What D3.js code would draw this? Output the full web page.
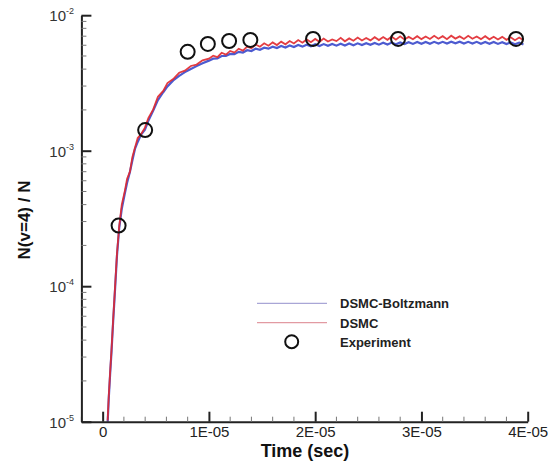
<!DOCTYPE html>
<html>
<head>
<meta charset="utf-8">
<script src="https://cdn.jsdelivr.net/npm/d3@7/dist/d3.min.js"></script>
<style>
  html, body { margin: 0; padding: 0; background: #fff; }
  svg { display: block; font-family: "Liberation Sans", Arial, Helvetica, sans-serif; }
</style>
</head>
<body>
<svg id="chart" width="554" height="464"></svg>
<script>
// ---- Data (time in microseconds, populations in units of 1e-3) ----
const timeMicro = [
  0.47, 0.57, 0.7, 0.83, 1.0, 1.1, 1.19, 1.35, 1.56, 1.8, 2.1, 2.3, 2.57, 2.8, 3.04, 3.3, 3.6, 3.98, 4.3, 4.76,
  5.2, 5.7, 6.1, 6.64, 7.2, 7.74, 8.3, 8.84, 9.4,
  10.0, 10.4, 10.8, 11.2, 11.6, 12.0, 12.4, 12.8, 13.2, 13.6, 14.0, 14.4, 14.8, 15.2, 15.6, 16.0, 16.4, 16.8,
  17.2, 17.6, 18.0, 18.4, 18.8, 19.2, 19.6, 20.0, 20.4, 20.8, 21.2, 21.6, 22.0, 22.4, 22.8, 23.2, 23.6, 24.0,
  24.4, 24.8, 25.2, 25.6, 26.0, 26.4, 26.8, 27.2, 27.6, 28.0, 28.4, 28.8, 29.2, 29.6, 30.0, 30.4, 30.8, 31.2,
  31.6, 32.0, 32.4, 32.8, 33.2, 33.6, 34.0, 34.4, 34.8, 35.2, 35.6, 36.0, 36.4, 36.8, 37.2, 37.6, 38.0, 38.4,
  38.8, 39.2, 39.6
];
const dsmc = [
  0.0102, 0.0152, 0.0230, 0.0335, 0.059, 0.080, 0.106, 0.175, 0.278, 0.40, 0.51, 0.62, 0.70, 0.90, 1.05, 1.24, 1.32, 1.48, 1.74, 2.02,
  2.50, 2.76, 3.16, 3.38, 3.76, 3.90, 4.22, 4.32, 4.64,
  4.78, 5.02, 4.90, 5.28, 5.12, 5.45, 5.30, 5.66, 5.48, 5.86, 5.70, 6.08, 5.85, 6.20, 5.95, 6.30, 6.02, 6.38,
  6.10, 6.45, 6.18, 6.55, 6.26, 6.62, 6.32, 6.68, 6.36, 6.72, 6.40, 6.62, 6.44, 6.80, 6.42, 6.74, 6.48, 6.84,
  6.50, 6.78, 6.52, 6.88, 6.55, 6.90, 6.58, 6.94, 6.60, 6.98, 6.62, 6.92, 6.64, 7.00, 6.66, 6.96, 6.68, 7.04,
  6.70, 7.00, 6.66, 7.06, 6.72, 6.98, 6.68, 7.04, 6.70, 6.96, 6.66, 7.00, 6.64, 6.94, 6.62, 6.92, 6.58, 6.88,
  6.54, 6.84, 6.52
];
const dsmcBoltzmann = [
  0.0098, 0.0146, 0.0222, 0.0325, 0.057, 0.077, 0.102, 0.169, 0.270, 0.372, 0.49, 0.58, 0.70, 0.85, 1.03, 1.16, 1.31, 1.43, 1.66, 1.98,
  2.36, 2.70, 2.98, 3.30, 3.57, 3.80, 4.01, 4.21, 4.42,
  4.62, 4.78, 4.80, 5.00, 5.00, 5.18, 5.16, 5.36, 5.30, 5.52, 5.44, 5.66, 5.56, 5.76, 5.66, 5.86, 5.72, 5.92,
  5.78, 5.98, 5.82, 6.02, 5.86, 6.06, 5.90, 6.10, 5.92, 6.12, 5.94, 6.14, 5.96, 6.16, 5.98, 6.18, 6.00, 6.20,
  6.02, 6.22, 6.04, 6.24, 6.06, 6.26, 6.08, 6.28, 6.10, 6.30, 6.12, 6.32, 6.14, 6.34, 6.16, 6.34, 6.16, 6.36,
  6.18, 6.36, 6.18, 6.38, 6.20, 6.38, 6.18, 6.36, 6.18, 6.36, 6.16, 6.34, 6.16, 6.34, 6.14, 6.32, 6.12, 6.30,
  6.10, 6.28, 6.08
];
const expTimeMicro = [1.5, 4.0, 8.0, 9.9, 11.9, 13.9, 19.8, 27.8, 38.9];
const experiment   = [0.28, 1.42, 5.37, 6.14, 6.45, 6.57, 6.68, 6.68, 6.68];

const xTicks = [0, 1e-5, 2e-5, 3e-5, 4e-5];
const xTickLabels = ["0", "1E-05", "2E-05", "3E-05", "4E-05"];
const yTicks = [1e-5, 1e-4, 1e-3, 1e-2];
const yTickExponents = ["-5", "-4", "-3", "-2"];
const seriesNames = ["DSMC-Boltzmann", "DSMC", "Experiment"];

// ---- Scales ----
const svg = d3.select("#chart");
const x = d3.scaleLinear().domain([-2e-6, 4e-5]).range([81.4, 527.7]);
const y = d3.scaleLog().domain([1e-5, 1e-2]).range([421.7, 15.2]);

const toPts = (ts, vs) => ts.map((t, i) => [t * 1e-6, vs[i] * 1e-3]);

// clip
svg.append("defs").append("clipPath").attr("id", "plot")
  .append("rect").attr("x", 81.4).attr("y", 10).attr("width", 460).attr("height", 411.7);

const line = d3.line().x(d => x(d[0])).y(d => y(d[1]));
const g = svg.append("g").attr("clip-path", "url(#plot)");
g.append("path").datum(toPts(timeMicro, dsmcBoltzmann))
  .attr("d", line).attr("fill", "none").attr("stroke", "#4d5bd0").attr("stroke-width", 2.2);
g.append("path").datum(toPts(timeMicro, dsmc))
  .attr("d", line).attr("fill", "none").attr("stroke", "#e0282e").attr("stroke-width", 1.8)
  .attr("stroke-opacity", 0.9);

// experiment circles
svg.append("g").selectAll("circle").data(toPts(expTimeMicro, experiment)).join("circle")
  .attr("cx", d => x(d[0])).attr("cy", d => y(d[1])).attr("r", 7)
  .attr("fill", "none").attr("stroke", "#111").attr("stroke-width", 2);

// ---- Axes ----
const axisColor = "#222";
// x axis
const xMinor = d3.range(-2e-6, 4.0001e-5, 2e-6).filter(v => !xTicks.some(t => Math.abs(t - v) < 1e-9));
const xAxis = svg.append("g").attr("transform", `translate(0,${y(1e-5)})`);
xAxis.call(d3.axisBottom(x).tickValues(xTicks).tickFormat((d, i) => xTickLabels[i]).tickSizeInner(-10).tickSizeOuter(0).tickPadding(5));
xAxis.select(".domain").attr("stroke", axisColor).attr("stroke-width", 2);
xAxis.selectAll(".tick line").attr("stroke", axisColor).attr("stroke-width", 2);
xAxis.selectAll(".tick text").attr("font-size", 15).attr("fill", "#222")
  .attr("font-family", "Liberation Sans, Arial, sans-serif");
xAxis.append("g").selectAll("line").data(xMinor).join("line")
  .attr("x1", d => x(d)).attr("x2", d => x(d)).attr("y1", 0).attr("y2", -5)
  .attr("stroke", "#777").attr("stroke-width", 1);

// y axis
const yMinor = [];
yTicks.slice(0, 3).forEach(p => { for (let k = 2; k <= 9; k++) yMinor.push(p * k); });
const yAxis = svg.append("g").attr("transform", `translate(${x(-2e-6)},0)`);
yAxis.call(d3.axisLeft(y).tickValues(yTicks).tickFormat("").tickSizeInner(-10).tickSizeOuter(0));
yAxis.select(".domain").attr("stroke", axisColor).attr("stroke-width", 2);
yAxis.selectAll(".tick line").attr("stroke", axisColor).attr("stroke-width", 2);
yAxis.append("g").selectAll("line").data(yMinor).join("line")
  .attr("x1", 0).attr("x2", 5).attr("y1", d => y(d)).attr("y2", d => y(d))
  .attr("stroke", "#777").attr("stroke-width", 1);

// y tick labels with superscripts
const yl = svg.append("g").selectAll("text").data(yTicks).join("text")
  .attr("x", 74).attr("y", d => y(d) + 6).attr("text-anchor", "end")
  .attr("fill", "#333").attr("font-size", 15);
yl.append("tspan").text("10");
yl.append("tspan").attr("dy", -7).attr("font-size", 9).text((d, i) => yTickExponents[i]);

// axis titles
svg.append("text").attr("x", 305).attr("y", 457).attr("text-anchor", "middle")
  .attr("font-size", 18).attr("font-weight", "bold").attr("fill", "#111").text("Time (sec)");
svg.append("text").attr("transform", "translate(30,220) rotate(-90)").attr("text-anchor", "middle")
  .attr("font-size", 17).attr("font-weight", "bold").attr("fill", "#111").text("N(v=4) / N");

// ---- Legend ----
const leg = svg.append("g");
const legY = [303.3, 322.7, 341.7];
leg.append("line").attr("x1", 257).attr("x2", 327).attr("y1", legY[0]).attr("y2", legY[0])
  .attr("stroke", "#a9a6d6").attr("stroke-width", 1.2);
leg.append("line").attr("x1", 257).attr("x2", 327).attr("y1", legY[1]).attr("y2", legY[1])
  .attr("stroke", "#e29aa2").attr("stroke-width", 1.2);
leg.append("circle").attr("cx", 291.7).attr("cy", legY[2]).attr("r", 6.5)
  .attr("fill", "none").attr("stroke", "#111").attr("stroke-width", 2);
leg.selectAll("text").data(seriesNames).join("text")
  .attr("x", 340).attr("y", (d, i) => legY[i] + 4.8)
  .attr("font-size", 13).attr("font-weight", "bold").attr("fill", "#222").text(d => d);
</script>
</body>
</html>
